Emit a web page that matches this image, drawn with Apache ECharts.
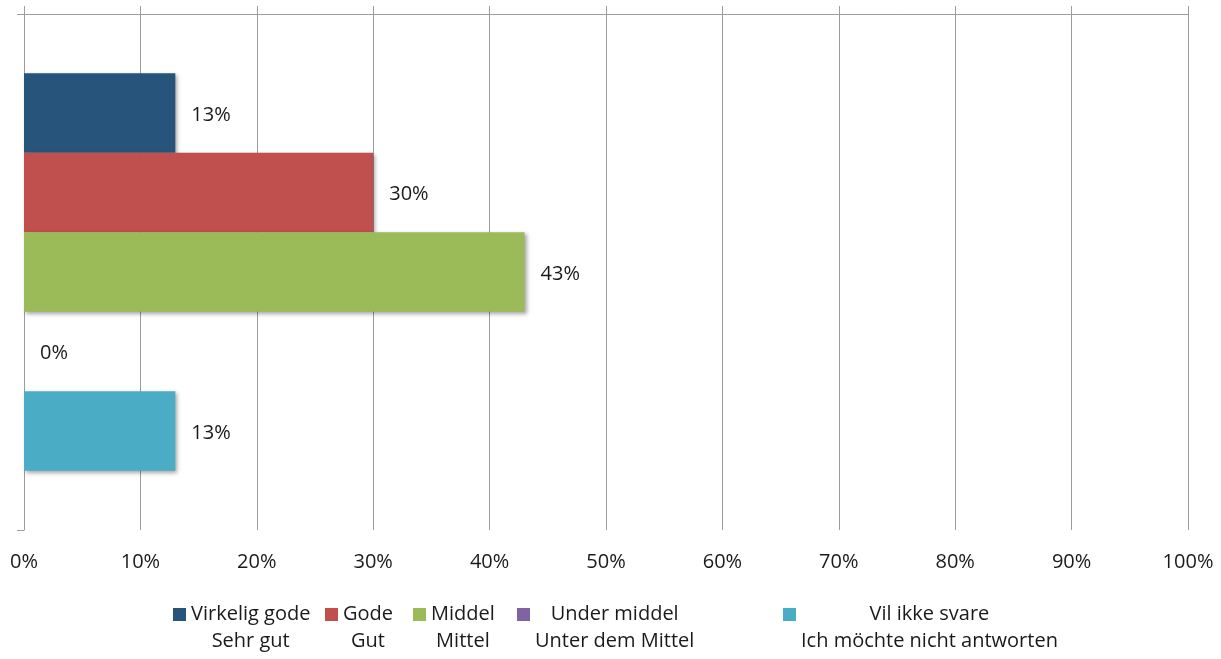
<!DOCTYPE html>
<html>
<head>
<meta charset="utf-8">
<script src="https://cdn.jsdelivr.net/npm/echarts@6/dist/echarts.min.js"></script>
<style>
html,body{margin:0;padding:0;background:#fff;}
#chart{width:1221px;height:659px;}
</style>
</head>
<body>
<div id="chart"></div>
<script>
const categories = [''];
const seriesNames = ['Virkelig gode', 'Gode', 'Middel', 'Under middel', 'Vil ikke svare'];
const seriesNamesDe = ['Sehr gut', 'Gut', 'Mittel', 'Unter dem Mittel', 'Ich möchte nicht antworten'];
const values = [13, 30, 43, 0, 13];
const colors = ['#27547A', '#C0504D', '#9BBB59', '#8064A2', '#4BACC6'];
const legendLeft = [173, 325, 413, 517, 783];

const FONT = '"Open Sans", "Noto Sans", sans-serif';
const FS = 20;
const TXT = '#1a1a1a';
const GRID = '#9c9c9c';

const chart = echarts.init(document.getElementById('chart'));

const series = seriesNames.map((n, i) => ({
  name: n,
  type: 'bar',
  xAxisIndex: 0,
  data: [values[i]],
  barGap: '0%',
  barCategoryGap: '23%',
  itemStyle: {
    color: colors[i],
    shadowBlur: 4,
    shadowOffsetX: 2,
    shadowOffsetY: 2,
    shadowColor: 'rgba(0,0,0,0.35)'
  },
  label: {
    show: true,
    position: 'right',
    distance: 16,
    offset: [0, 2],
    formatter: '{c}%',
    color: TXT,
    fontFamily: FONT,
    fontSize: FS
  }
}));

const legends = seriesNames.map((n, i) => ({
  data: [n],
  left: legendLeft[i],
  top: 574,
  padding: 0,
  itemWidth: 13,
  itemHeight: 13,
  itemGap: 0,
  icon: 'rect',
  selectedMode: false,
  formatter: (name) => {
    const k = seriesNames.indexOf(name);
    return '{c|' + name + '}\n{c|' + seriesNamesDe[k] + '}';
  },
  textStyle: {
    padding: [27, 0, 0, 0],
    color: TXT,
    fontFamily: FONT,
    fontSize: FS,
    lineHeight: 27,
    rich: {
      c: { align: 'center', color: TXT, fontFamily: FONT, fontSize: FS, lineHeight: 27 }
    }
  }
}));

chart.setOption({
  animation: false,
  backgroundColor: '#fff',
  grid: { left: 24, right: 33, top: 14, bottom: 129, containLabel: false },
  legend: legends,
  xAxis: [
    {
      type: 'value', position: 'bottom', min: 0, max: 100, interval: 10,
      axisLine: { show: false },
      axisTick: { show: false },
      splitLine: { show: true, lineStyle: { color: GRID, width: 1 } },
      axisLabel: { formatter: '{value}%', color: TXT, fontFamily: FONT, fontSize: FS, margin: 22 }
    },
    {
      type: 'value', position: 'top', min: 0, max: 100, interval: 10,
      axisLine: { show: true, onZero: false, lineStyle: { color: GRID, width: 1 } },
      axisTick: { show: true, inside: false, length: 8, lineStyle: { color: GRID, width: 1 } },
      splitLine: { show: false },
      axisLabel: { show: false }
    }
  ],
  yAxis: {
    type: 'category', data: categories, inverse: true,
    axisLine: { show: true, lineStyle: { color: GRID, width: 1 } },
    axisTick: { show: true, length: 7, lineStyle: { color: GRID, width: 1 } },
    axisLabel: { show: false }
  },
  series: series
});
</script>
</body>
</html>
